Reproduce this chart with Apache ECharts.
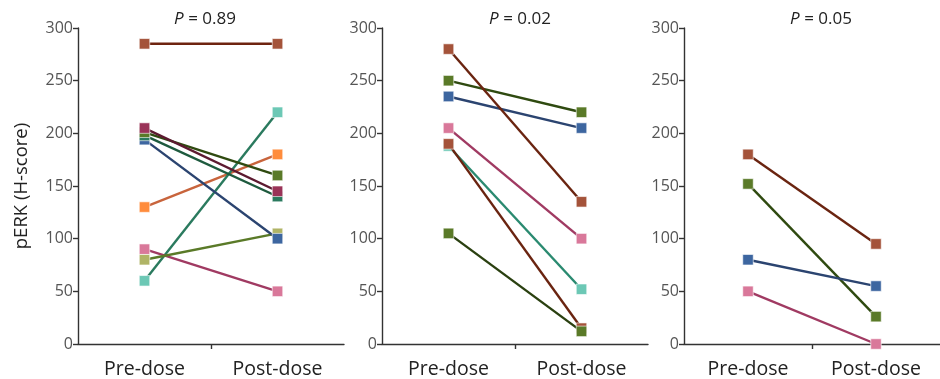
<!DOCTYPE html>
<html>
<head>
<meta charset="utf-8">
<script src="https://cdn.jsdelivr.net/npm/echarts@6/dist/echarts.min.js"></script>
<style>
html, body { margin: 0; padding: 0; background: #fff; }
#chart { width: 940px; height: 379px; }
</style>
</head>
<body>
<div id="chart"></div>
<script>
var categories = ['Pre-dose', 'Post-dose'];
var yTicks = [0, 50, 100, 150, 200, 250, 300];
var pValues = ['0.89', '0.02', '0.05'];

// panel 1 (series in drawing order)
var panel1Pre  = [285, 130, 60, 90, 80, 194, 198, 201, 205];
var panel1Post = [285, 180, 220, 50, 105, 100, 140, 160, 145];
// panel 2
var panel2Pre  = [188, 190, 205, 235, 250, 280, 105];
var panel2Post = [52, 15, 100, 205, 220, 135, 12];
// panel 3
var panel3Pre  = [180, 152, 80, 50];
var panel3Post = [95, 26, 55, 0];

var panel1Marker = ['#a4533a', '#ff8c3c', '#6cc8b5', '#d9789a', '#b0b466', '#3d66a0', '#2a7a5e', '#5a7a28', '#9a3358'];
var panel1Line   = ['#6e2410', '#c8643c', '#2a7a5e', '#a03a62', '#5a7a28', '#2b4470', '#1e5a3e', '#2f4a10', '#5c1a30'];
var panel2Marker = ['#6cc8b5', '#a4533a', '#d9789a', '#3d66a0', '#5a7a28', '#a4533a', '#5a7a28'];
var panel2Line   = ['#2a8a70', '#6a2410', '#a03a62', '#2b4470', '#2f4a10', '#6a2410', '#2a4010'];
var panel3Marker = ['#a4533a', '#5a7a28', '#3d66a0', '#d9789a'];
var panel3Line   = ['#6a2410', '#2f4a10', '#2b4470', '#a03a62'];

var font = 'Open Sans';
var gridLefts = [78, 382, 684];
var titleCenters = [205, 520, 821];

var chart = echarts.init(document.getElementById('chart'));

var grids = [], xAxes = [], tickAxes = [], yAxes = [], titles = [], series = [];

for (var g = 0; g < 3; g++) {
    grids.push({ left: gridLefts[g], top: 28, width: 266, height: 318 });
    xAxes.push({
        type: 'category', gridIndex: g, position: 'bottom', data: categories, boundaryGap: true,
        axisLine: { lineStyle: { color: '#333', width: 1.4 } },
        axisTick: { show: false },
        axisLabel: { color: '#222', fontSize: 19.5, fontFamily: font, margin: 15 }
    });
    // only the middle tick of the x axis
    tickAxes.push({
        type: 'category', gridIndex: g, position: 'bottom', data: ['', '', ''], boundaryGap: false,
        axisLine: { show: false },
        axisLabel: { show: false },
        axisTick: { show: true, length: 5, interval: function (i) { return i === 1; }, lineStyle: { color: '#333', width: 1.4 } }
    });
    yAxes.push({
        type: 'value', gridIndex: g, min: yTicks[0], max: yTicks[yTicks.length - 1], interval: 50,
        name: g === 0 ? 'pERK (H-score)' : '', nameLocation: 'middle', nameGap: 47,
        nameTextStyle: { color: '#222', fontSize: 18.5, fontFamily: font },
        axisLine: { show: true, lineStyle: { color: '#333', width: 1.4 } },
        axisTick: { show: true, length: 5, lineStyle: { color: '#333', width: 1.4 } },
        axisLabel: { color: '#555', fontSize: 16, fontFamily: font, margin: 5 },
        splitLine: { show: false }
    });
    titles.push({
        text: '{i|P} = ' + pValues[g], left: titleCenters[g], top: 11, padding: 0, textAlign: 'center',
        textStyle: {
            color: '#222', fontSize: 17, fontWeight: 'normal', fontFamily: font,
            rich: { i: { fontStyle: 'italic', fontSize: 17, fontFamily: font, color: '#222' } }
        }
    });
}

function addSeries(g, pre, post, markers, lines) {
    for (var i = 0; i < pre.length; i++) {
        series.push({
            type: 'line', xAxisIndex: g, yAxisIndex: g, data: [pre[i], post[i]],
            symbol: 'rect', symbolSize: 10.5, clip: false, silent: true,
            itemStyle: { color: markers[i], borderColor: 'rgba(255,255,255,0.6)', borderWidth: 1 },
            lineStyle: { color: lines[i], width: 2.4 },
            z: 2 + i
        });
    }
}
addSeries(0, panel1Pre, panel1Post, panel1Marker, panel1Line);
addSeries(1, panel2Pre, panel2Post, panel2Marker, panel2Line);
addSeries(2, panel3Pre, panel3Post, panel3Marker, panel3Line);

var option = {
    backgroundColor: '#fff',
    animation: false,
    title: titles,
    grid: grids,
    xAxis: xAxes.concat(tickAxes),
    yAxis: yAxes,
    series: series
};
chart.setOption(option);
</script>
</body>
</html>
